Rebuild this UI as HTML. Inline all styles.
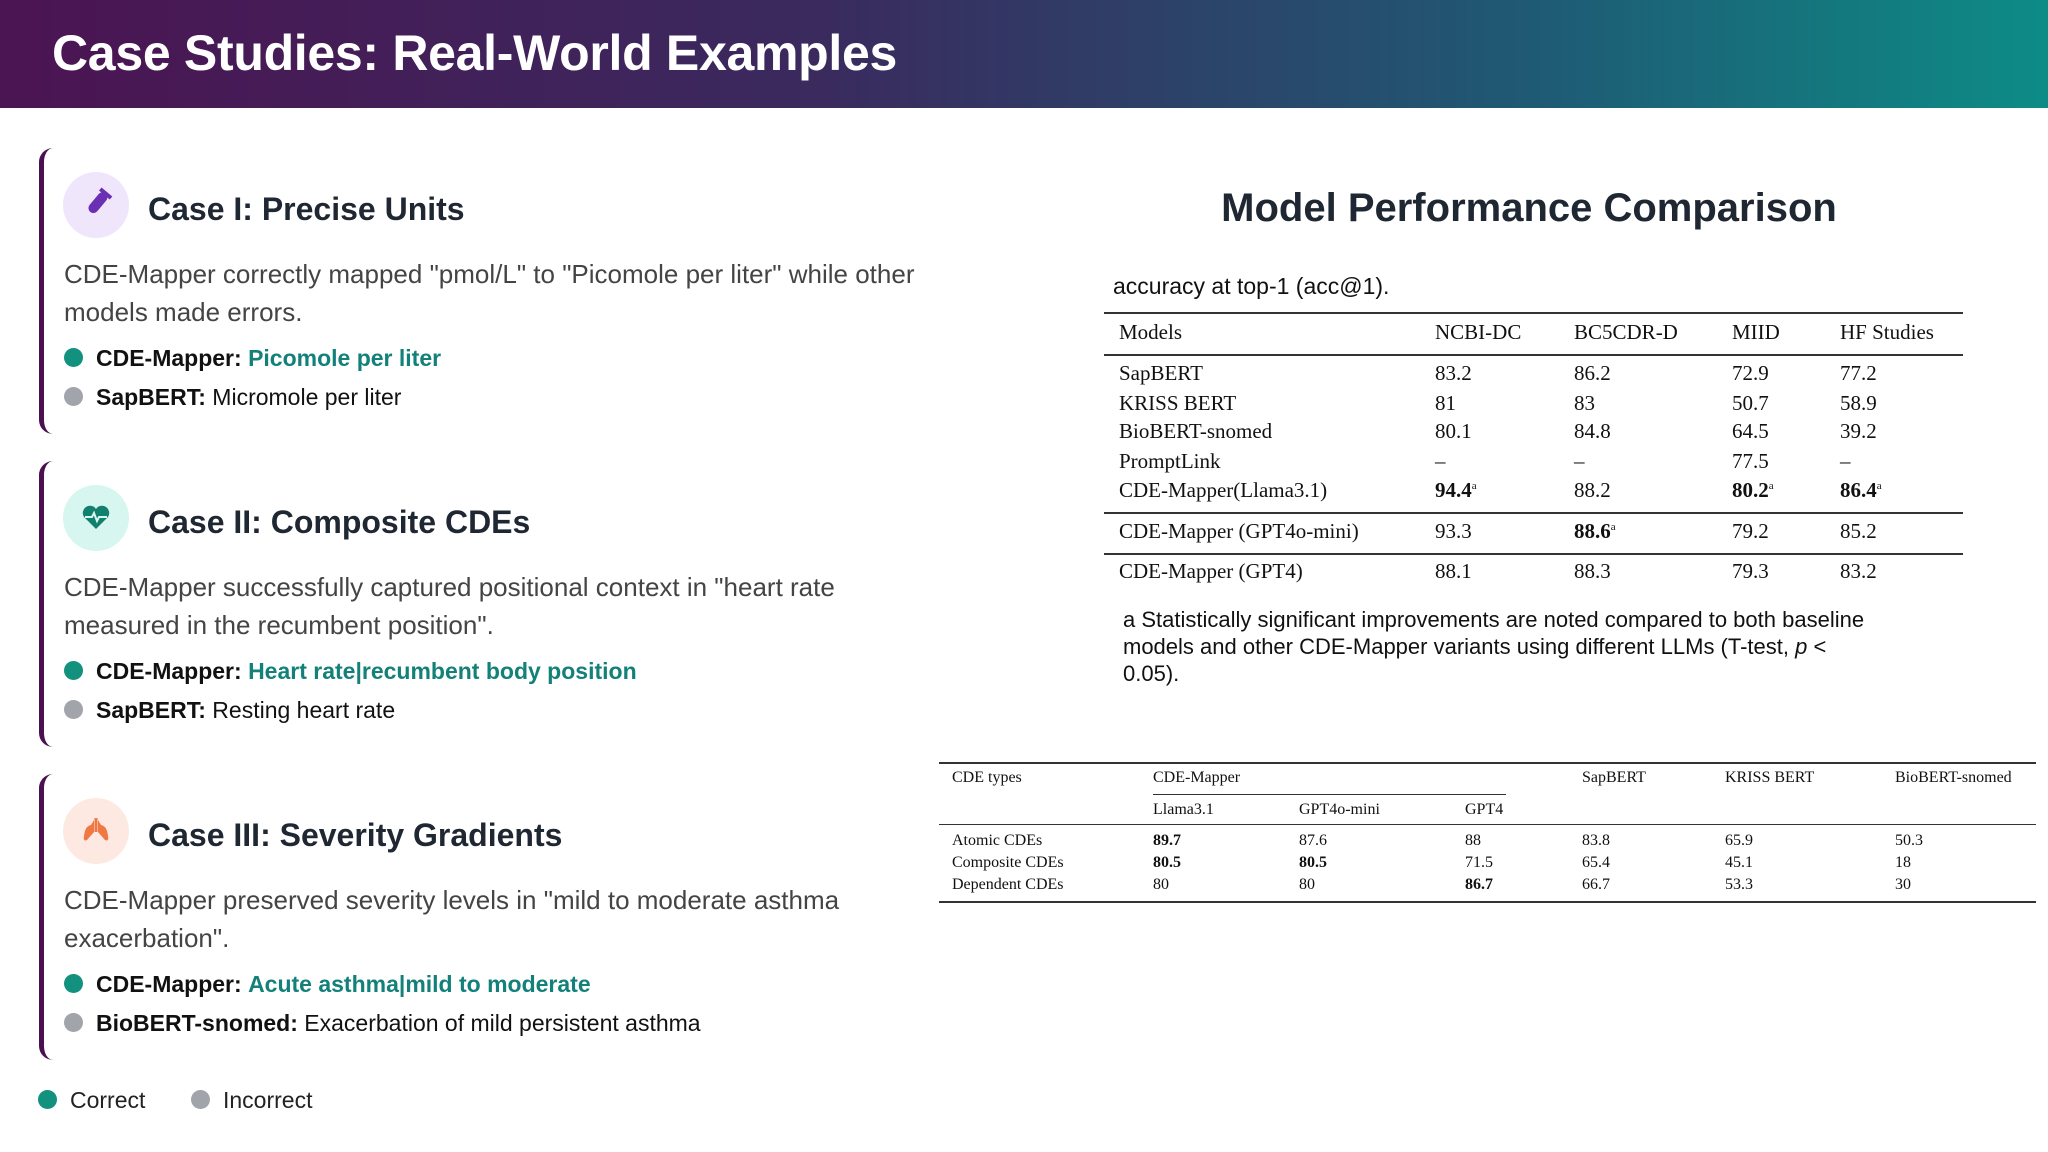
<!DOCTYPE html>
<html><head><meta charset="utf-8">
<style>
*{margin:0;padding:0;box-sizing:border-box}
body{width:2048px;height:1152px;background:#fff;position:relative;overflow:hidden;font-family:"Liberation Sans",sans-serif;color:#222}
.abs{position:absolute;white-space:nowrap}
#hdr{left:0;top:0;width:2048px;height:108px;background:linear-gradient(90deg,#4b1452 0%,#3a2a5e 40%,#1f5a74 75%,#0d8c86 100%)}
#hdr h1{position:absolute;left:52px;top:24px;font-size:50px;font-weight:bold;color:#fff;letter-spacing:-0.3px}
.card{position:absolute;left:39px;width:960px;height:286px;border-left:5px solid #4a1050;border-radius:14px 0 0 14px;background:#fff}
.icon{position:absolute;left:19px;top:24px;width:66px;height:66px;border-radius:50%}
.ctitle{position:absolute;left:104px;top:43px;font-size:32px;font-weight:bold;color:#1f2733}
.desc{position:absolute;left:20px;top:107px;font-size:26px;line-height:38px;color:#444;width:880px}
.b{position:absolute;left:20px;font-size:23px;color:#111;white-space:nowrap}
.dot{display:inline-block;width:19px;height:19px;border-radius:50%;margin-right:13px;vertical-align:-1px}
.g{background:#13917f}.gr{background:#a2a4ab}
.teal{color:#13817a;font-weight:bold}
.serif{font-family:"Liberation Serif",serif}
.hl{position:absolute;background:#333}
</style></head><body>
<div id="hdr" class="abs"><h1>Case Studies: Real-World Examples</h1></div>

<div class="card" style="top:148px">
 <div class="icon" style="background:#efe6fb"><svg width="66" height="66"><g transform="rotate(40 33 33)"><rect x="28" y="18" width="10" height="24" rx="5" fill="#6b2fb3"/><rect x="26" y="16" width="14" height="4" fill="#6b2fb3"/></g></svg></div>
 <div class="ctitle">Case I: Precise Units</div>
 <div class="desc">CDE-Mapper correctly mapped "pmol/L" to "Picomole per liter" while other models made errors.</div>
 <div class="b" style="top:197px"><span class="dot g"></span><b>CDE-Mapper:</b> <span class="teal">Picomole per liter</span></div>
 <div class="b" style="top:236px"><span class="dot gr"></span><b>SapBERT:</b> Micromole per liter</div>
</div>

<div class="card" style="top:461px">
 <div class="icon" style="background:#d6f6ef"><svg width="66" height="66"><path d="M33 44 L21 32 A6 6 0 0 1 33 24 A6 6 0 0 1 45 32 Z" fill="#11806f"/><polyline points="22,32 29,32 31,28 34,36 36,32 44,32" fill="none" stroke="#d6f6ef" stroke-width="2"/></svg></div>
 <div class="ctitle">Case II: Composite CDEs</div>
 <div class="desc">CDE-Mapper successfully captured positional context in "heart rate measured in the recumbent position".</div>
 <div class="b" style="top:197px"><span class="dot g"></span><b>CDE-Mapper:</b> <span class="teal">Heart rate|recumbent body position</span></div>
 <div class="b" style="top:236px"><span class="dot gr"></span><b>SapBERT:</b> Resting heart rate</div>
</div>

<div class="card" style="top:774px">
 <div class="icon" style="background:#fde9e2"><svg width="66" height="66"><path d="M31 22 L31 34 L24 42 Q20 44 21 38 Q22 28 28 27 Z M35 22 L35 34 L42 42 Q46 44 45 38 Q44 28 38 27 Z" fill="#f07845"/><line x1="33" y1="20" x2="33" y2="34" stroke="#f07845" stroke-width="3"/></svg></div>
 <div class="ctitle">Case III: Severity Gradients</div>
 <div class="desc">CDE-Mapper preserved severity levels in "mild to moderate asthma exacerbation".</div>
 <div class="b" style="top:197px"><span class="dot g"></span><b>CDE-Mapper:</b> <span class="teal">Acute asthma|mild to moderate</span></div>
 <div class="b" style="top:236px"><span class="dot gr"></span><b>BioBERT-snomed:</b> Exacerbation of mild persistent asthma</div>
</div>

<div class="abs" style="left:38px;top:1087px;font-size:23px"><span class="dot g"></span>Correct</div>
<div class="abs" style="left:191px;top:1087px;font-size:23px"><span class="dot gr"></span>Incorrect</div>

<div class="abs" style="left:1529px;top:186px;transform:translateX(-50%);font-size:40px;font-weight:bold;color:#1f2733">Model Performance Comparison</div>
<div class="abs" style="left:1113px;top:273px;font-size:23px;color:#111">accuracy at top-1 (acc@1).</div>

<div>
<div class="hl" style="left:1104px;top:312px;width:859px;height:2px"></div>
<div class="hl" style="left:1104px;top:354px;width:859px;height:2px"></div>
<div class="hl" style="left:1104px;top:512px;width:859px;height:2px"></div>
<div class="hl" style="left:1104px;top:553px;width:859px;height:2px"></div>
<div id="t1" class="serif"></div>
</div>

<div class="abs" style="left:1123px;top:606px;font-size:22px;line-height:27px;color:#111;white-space:normal;width:765px">a Statistically significant improvements are noted compared to both baseline models and other CDE-Mapper variants using different LLMs (T-test, <i>p</i> &lt; 0.05).</div>

<div>
<div class="hl" style="left:939px;top:762px;width:1097px;height:2px"></div>
<div class="hl" style="left:1153px;top:794px;width:353px;height:1px"></div>
<div class="hl" style="left:939px;top:824px;width:1097px;height:1px"></div>
<div class="hl" style="left:939px;top:901px;width:1097px;height:2px"></div>
<div id="t2" class="serif"></div>
</div>

<script>
const t1Cols=[1119,1435,1574,1732,1840];
const t1Rows=[
 [333,["Models","NCBI-DC","BC5CDR-D","MIID","HF Studies"]],
 [374,["SapBERT","83.2","86.2","72.9","77.2"]],
 [404,["KRISS BERT","81","83","50.7","58.9"]],
 [432,["BioBERT-snomed","80.1","84.8","64.5","39.2"]],
 [462,["PromptLink","–","–","77.5","–"]],
 [491,["CDE-Mapper(Llama3.1)","*94.4","88.2","*80.2","*86.4"]],
 [532,["CDE-Mapper (GPT4o-mini)","93.3","*88.6","79.2","85.2"]],
 [572,["CDE-Mapper (GPT4)","88.1","88.3","79.3","83.2"]]];
const t2Cols=[952,1153,1299,1465,1582,1725,1895];
const t2Rows=[
 [779,["CDE types","CDE-Mapper","","","SapBERT","KRISS BERT","BioBERT-snomed"]],
 [811,["","Llama3.1","GPT4o-mini","GPT4","","",""]],
 [842,["Atomic CDEs","!89.7","87.6","88","83.8","65.9","50.3"]],
 [864,["Composite CDEs","!80.5","!80.5","71.5","65.4","45.1","18"]],
 [886,["Dependent CDEs","80","80","!86.7","66.7","53.3","30"]]];
function put(host,cols,rows,fs,name){
 rows.forEach((r,ri)=>{r[1].forEach((v,ci)=>{if(!v)return;
  const d=document.createElement('div');
  
  
  d.className='abs';d.style.left=cols[ci]+'px';d.style.top=(r[0]-fs*0.6)+'px';d.style.fontSize=fs+'px';d.style.color='#111';
  if(v[0]=='*'){d.innerHTML='<b>'+v.slice(1)+'</b><sup style="font-size:11px">a</sup>';}
  else if(v[0]=='!'){d.innerHTML='<b>'+v.slice(1)+'</b>';}
  else d.textContent=v;
  host.appendChild(d);});});
}
put(document.getElementById('t1'),t1Cols,t1Rows,21,'table-1');
put(document.getElementById('t2'),t2Cols,t2Rows,16,'table-2');
</script>
</body></html>
